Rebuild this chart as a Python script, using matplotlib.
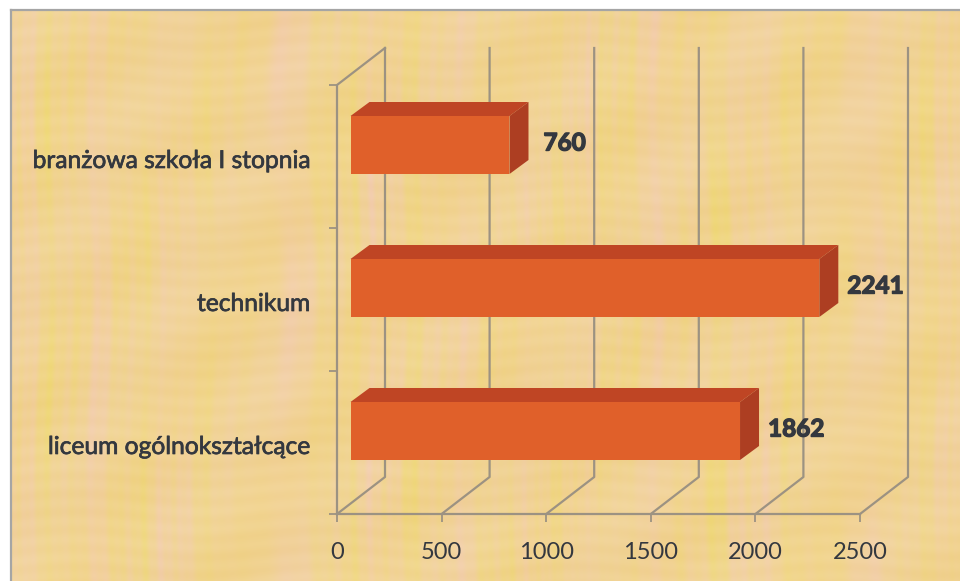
import matplotlib
matplotlib.use("Agg")
import matplotlib.pyplot as plt
import matplotlib.patheffects as pe
from matplotlib.transforms import Affine2D
import numpy as np

categories = ['liceum ogólnokształcące', 'technikum', 'branżowa szkoła I stopnia']
values = [1862, 2241, 760]
x_ticks = [0, 500, 1000, 1500, 2000, 2500]

W, H = 960, 581
# pixel position of the front floor of the plot
X0, X1 = 337, 860
Y0, Y1 = 514, 85
px_x = 2500 / (X1 - X0)
px_y = 3 / (Y0 - Y1)

text_col = '#34383f'
grid_col = '#9c9282'

fig = plt.figure(figsize=(W / 100, H / 100), dpi=100, facecolor='white')

# papyrus background, built from stripes (no data in here)
bg = fig.add_axes([11 / W, 0, 1 - 11 / W, 1 - 10 / H])
xx, yy = np.meshgrid(np.arange(W - 11), np.arange(H - 10))
wx = xx + 25 * np.sin(xx / 83.0) + 9 * np.sin(xx / 31.0 + 1) + 3 * np.sin(yy / 60.0)
patch = 0.6 + 0.4 * np.sin(yy / 85.0 + xx / 140.0) * np.sin(xx / 37.0 + yy / 120.0)
pink = (0.8 * np.sin(wx / 13.0) + 0.7 * np.sin(wx / 5.3 + 1) + 0.5 * np.sin(wx / 1.9)) * patch
fibre = 0.5 * np.sin(yy / 2.9 + 1.5 * np.sin(xx / 40.0)) + 0.5 * np.sin(yy / 17.0 + xx / 60.0)
tex = np.zeros(xx.shape + (3,))
tex[..., 0] = 241 + 1.0 * pink + 1.5 * fibre
tex[..., 1] = 211 - 3.0 * pink + 3.0 * fibre
tex[..., 2] = 148 + 12.0 * pink + 6.0 * fibre + 6.0 * np.sin(yy / 40.0 + xx / 23.0)
bg.imshow(np.clip(tex, 0, 255).astype(np.uint8), aspect='auto', interpolation='bilinear')
bg.set_xticks([])
bg.set_yticks([])
for s in ['right', 'bottom']:
    bg.spines[s].set_visible(False)
for s in ['left', 'top']:
    bg.spines[s].set_color('#a5a5a5')
    bg.spines[s].set_linewidth(1.6)

ax = fig.add_axes([X0 / W, 1 - Y0 / H, (X1 - X0) / W, (Y0 - Y1) / H])
ax.patch.set_alpha(0)
ax.set_xlim(0, 2500)
ax.set_ylim(0, 3)
for s in ax.spines.values():
    s.set_visible(False)

# 3D walls
wall_dx = 48 * px_x
wall_dy = 37 * px_y
line = dict(color=grid_col, lw=1.6, clip_on=False, zorder=1)
for t in x_ticks:
    ax.plot([t, t + wall_dx, t + wall_dx], [0, wall_dy, 3 + wall_dy], **line)
ax.plot([0, 2500], [0, 0], **line)
ax.plot([0, 0, wall_dx], [0, 3, 3 + wall_dy], **line)

ax.set_xticks(x_ticks)
ax.set_xticklabels(x_ticks, fontsize=17, color=text_col, family='Lato')
ax.tick_params(axis='x', length=6, width=1.3, color=grid_col, pad=14)
ax.set_yticks([0, 1, 2, 3])
ax.set_yticklabels([])
ax.tick_params(axis='y', length=6, width=1.3, color=grid_col)
ax.set_yticks([0.5, 1.5, 2.5], minor=True)
ax.set_yticklabels(categories, minor=True, fontsize=17.7, color=text_col, family='Lato')
ax.tick_params(axis='y', which='minor', length=0, pad=19)
for lab in ax.get_yticklabels(minor=True):
    lab.set_path_effects([pe.withStroke(linewidth=0.5, foreground=text_col)])
    lab.set_transform(lab.get_transform() + Affine2D().translate(0, -2))

# bars, pushed into the box
bar_dx = 13.5 * px_x
bar_dy = 11.5 * px_y
depth_x = 19 * px_x
depth_y = 14 * px_y
bar_h = 58 * px_y
y_pos = np.array([0.5, 1.5, 2.5]) + bar_dy

label_gap = [28, 28, 34]
for y, v, gap in zip(y_pos, values, label_gap):
    left = bar_dx
    right = bar_dx + v
    bot = y - bar_h / 2
    top = y + bar_h / 2
    ax.fill([left, right, right + depth_x, left + depth_x],
            [top, top, top + depth_y, top + depth_y], color='#bf4524', zorder=3, clip_on=False, lw=0)
    ax.fill([right, right + depth_x, right + depth_x, right],
            [bot, bot + depth_y, top + depth_y, top], color='#ad3e22', zorder=3, clip_on=False, lw=0)
    ax.text(right + gap * px_x, y + 2 * px_y, str(v), fontsize=17.5, fontweight='bold', family='Lato',
            color=text_col, va='center', ha='left', zorder=5, clip_on=False,
            path_effects=[pe.withStroke(linewidth=1.0, foreground=text_col)])
ax.barh(y_pos, values, height=bar_h, left=bar_dx, color='#e0602a', zorder=4)
# barh may reset limits
ax.set_xlim(0, 2500)
ax.set_ylim(0, 3)

fig.savefig('out.png', dpi=100)
